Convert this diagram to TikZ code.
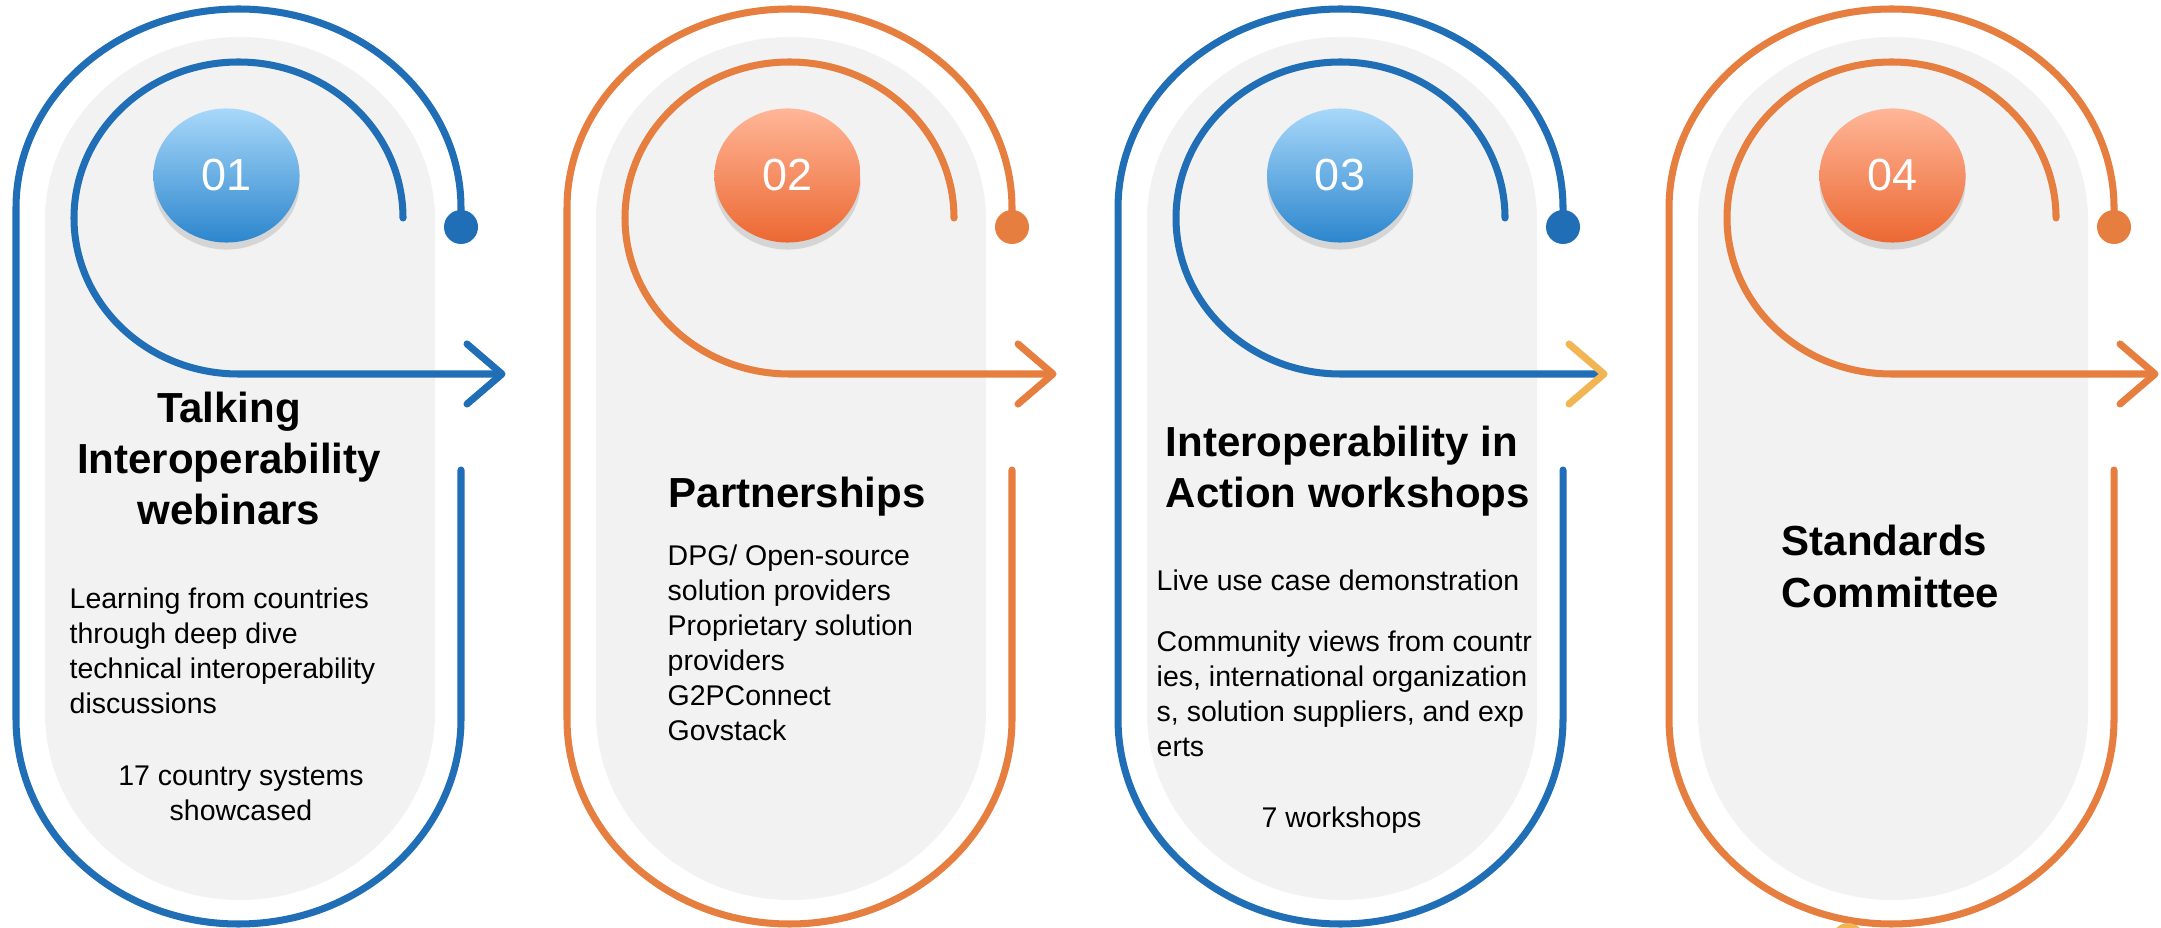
\documentclass[tikz,border=0pt]{standalone}
\usepackage{fontspec}
\setmainfont{Liberation Sans}
\usepackage{tikz}
\usetikzlibrary{calc}
\usetikzlibrary{shapes.geometric}
\usetikzlibrary{shadows}
\usepackage{color}

\definecolor{bleu}{RGB}{31,110,182}
\definecolor{orange}{RGB}{229,126,63}
\definecolor{jaune}{RGB}{242,181,83}
\definecolor{gris}{RGB}{242,242,242}
\definecolor{bleuhaut}{RGB}{168,216,250}
\definecolor{bleubas}{RGB}{44,134,205}
\definecolor{orangehaut}{RGB}{255,182,152}
\definecolor{orangebas}{RGB}{236,104,50}

\begin{document}
\begin{tikzpicture}[x=0.01cm,y=0.01cm,
	boucle/.style={line width=2pt,line cap=round,line join=round},
	bulle/.style={ellipse,minimum width=1.46cm,minimum height=1.34cm,inner sep=0pt,
		text=white,font=\fontsize{12.8}{14}\selectfont,
		drop shadow={opacity=0.25,shadow xshift=0pt,shadow yshift=-2pt}},
	titre/.style={inner sep=0pt,font=\fontsize{11.95}{14.6}\selectfont\bfseries},
	texte/.style={inner sep=0pt,font=\fontsize{8.1}{9.9}\selectfont}]
%					Cadre :
					\fill[white] (0,0) rectangle (2161,927);
					\useasboundingbox (0,0) rectangle (2161,927);
%					Tracé des quatre boucles :
					\foreach \dx/\col/\pointe/\bx/\num in {0/bleu/bleu/226.5/01,551/orange/orange/236.5/02,1102/bleu/jaune/238/03,1653/orange/orange/239.5/04}{
					\begin{scope}[shift={(\dx,0)}]
					\fill[gris] (45,214) -- (45,707) arc[start angle=180,end angle=0,x radius=195,y radius=183]
						-- (435,214) arc[start angle=0,end angle=-180,x radius=195,y radius=187] -- cycle;
					\draw[boucle,\col] (461,700) -- (461,719) arc[start angle=0,end angle=180,x radius=222.5,y radius=199]
						-- (16,208) arc[start angle=180,end angle=360,x radius=222.5,y radius=205] -- (461,457);
					\fill[\col] (461,700) circle (17);
					\draw[boucle,\col] (403,709) arc[start angle=0,end angle=270,x radius=164.5,y radius=156] -- (498,553);
					\draw[boucle,\pointe] (467,583) -- (502,553) -- (467,523);
					\node (boule\num) [bulle,top color=\col haut,bottom color=\col bas] at (\bx,751.5) {\num};
					\end{scope}}
%					Textes (ancre sur la dernière ligne) :
					\node (titre01) [titre,align=center,anchor=base] at (229,402) {Talking\\Interoperability\\webinars};
					\node (texte01) [texte,align=left,anchor=base west] at (69,214) {Learning from countries\\through deep dive\\technical interoperability\\discussions};
					\node (bilan01) [texte,align=center,anchor=base] at (241,107) {17 country systems\\showcased};
					\node (titre02) [titre,anchor=base west] at (668,419) {Partnerships};
					\node (texte02) [texte,align=left,anchor=base west] at (667,187) {DPG/ Open-source\\solution providers\\Proprietary solution\\providers\\G2PConnect\\Govstack};
					\node (titre03) [titre,align=left,anchor=base west] at (1165,419) {Interoperability in\\Action workshops};
					\node (texte03a) [texte,anchor=base west] at (1156,337) {Live use case demonstration};
					\node (texte03b) [texte,align=left,anchor=base west] at (1156,171) {Community views from countr\\ies, international organization\\s, solution suppliers, and exp\\erts};
					\node (bilan03) [texte,anchor=base] at (1341.5,100) {7 workshops};
					\node (titre04) [titre,align=left,anchor=base west] at (1781,320) {Standards\\Committee};
%					Morceau jaune en bas :
					\fill[jaune] (1848,-12) circle (16);
				\end{tikzpicture}
\end{document}
